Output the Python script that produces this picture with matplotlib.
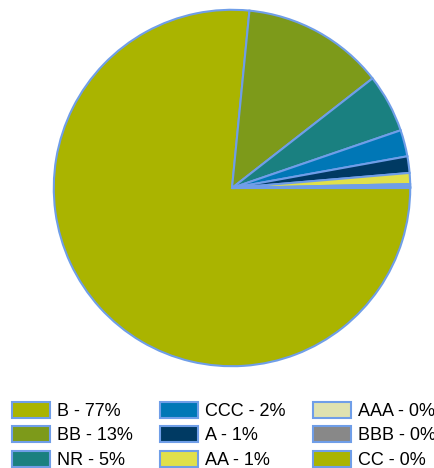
import matplotlib.pyplot as plt
from matplotlib.patches import Patch

plt.rcParams['font.family'] = ['Liberation Sans', 'DejaVu Sans']

# 评级分布
labels = ['B', 'BB', 'NR', 'CCC', 'A', 'AA', 'AAA', 'BBB', 'CC']
values = [76.6, 12.9, 5.3, 2.4, 1.5, 1.0, 0.2, 0.1, 0.05]
pct_text = ['77%', '13%', '5%', '2%', '1%', '1%', '0%', '0%', '0%']
colors = ['#aab400', '#7d9a1a', '#1a8080', '#0077b6', '#003a63',
          '#e0e04a', '#dfe2b0', '#888888', '#aab400']
edge = '#6f9ee8'

fig = plt.figure(figsize=(4.35, 4.68), dpi=100)
ax = fig.add_axes([52 / 435, 100 / 468, 360 / 435, 360 / 468])
ax.pie(values, colors=colors, startangle=0, counterclock=False,
       wedgeprops=dict(edgecolor=edge, linewidth=1.5))
ax.set_xlim(-1.01, 1.01)
ax.set_ylim(-1.01, 1.01)
ax.set_aspect('equal')

handles = [Patch(facecolor=c, edgecolor=edge, linewidth=1.5) for c in colors]
names = [f'{l} - {p}' for l, p in zip(labels, pct_text)]
fig.legend(handles, names, loc='lower left', bbox_to_anchor=(12 / 435, -1 / 468),
           ncol=3, frameon=False, fontsize=13, handlelength=2.1,
           handleheight=1.0, handletextpad=0.4, columnspacing=1.5,
           labelspacing=0.35, borderaxespad=0, borderpad=0)

plt.savefig('out.png', dpi=100)
